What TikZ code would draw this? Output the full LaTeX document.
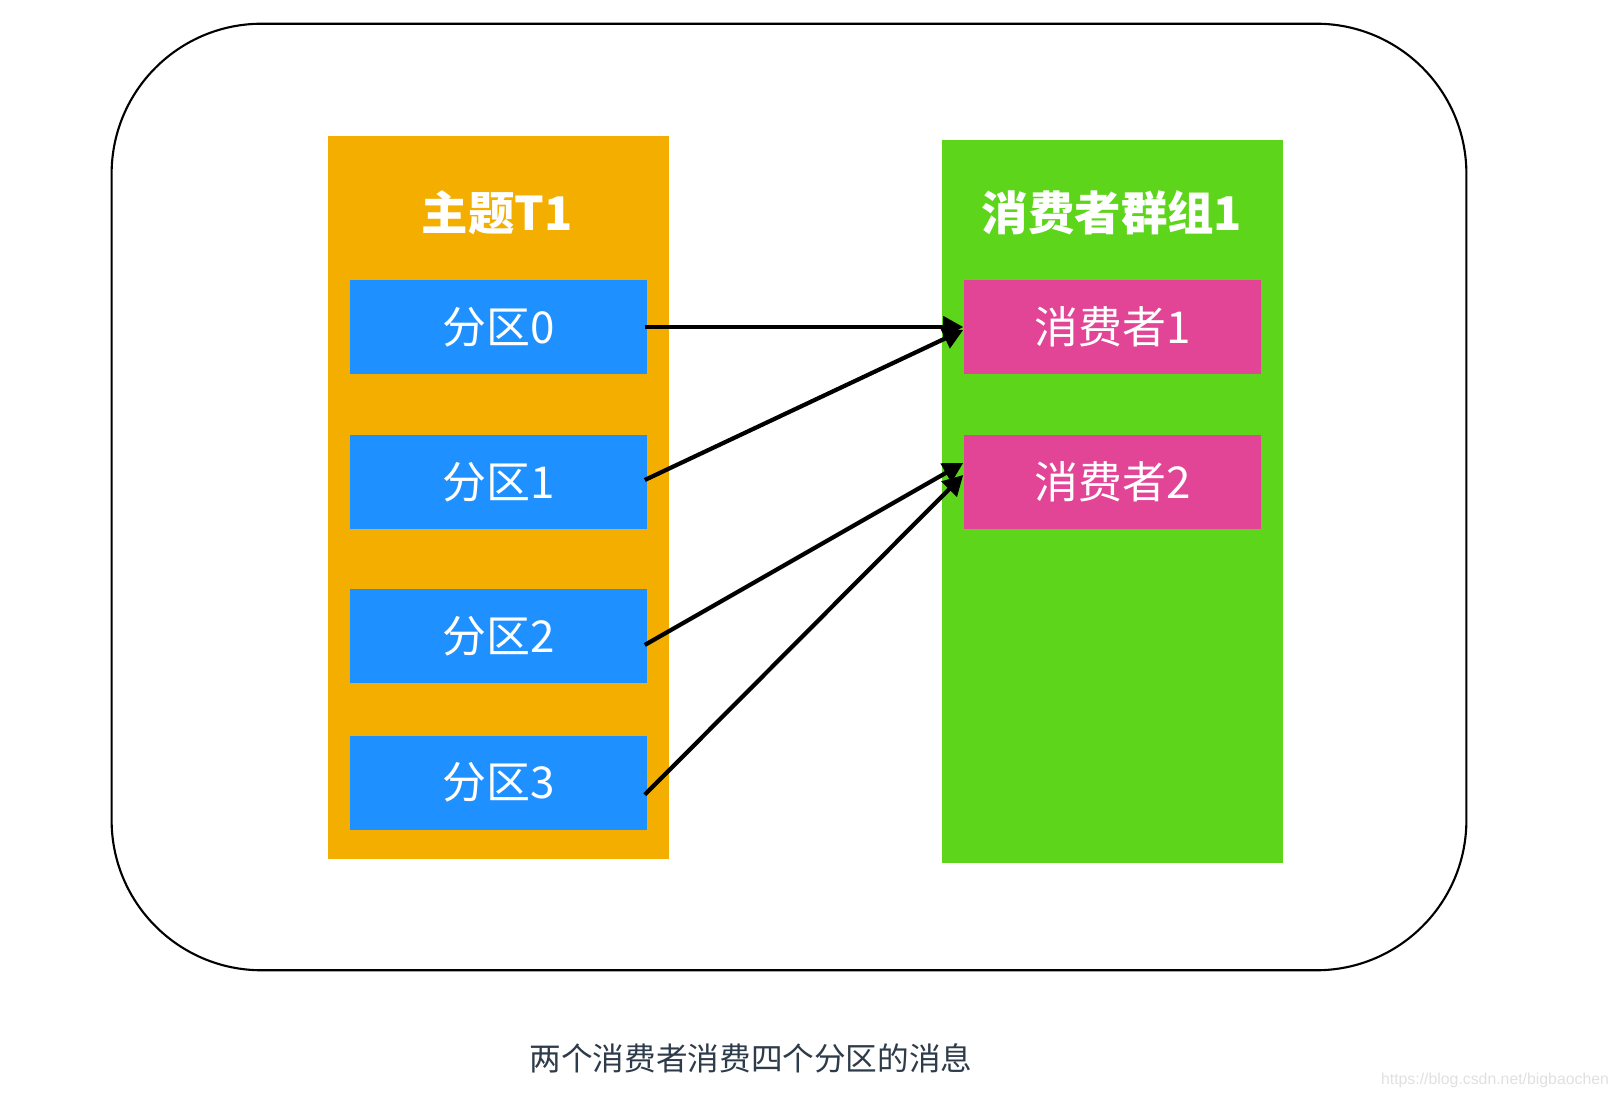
\documentclass[tikz,border=0pt]{standalone}
\usepackage{fontspec}
\newfontfamily\cjk{Noto Sans CJK SC}
\newfontfamily\wmfont{Liberation Sans}
\usetikzlibrary{calc,arrows.meta}
\definecolor{topicorange}{HTML}{F3AE00}
\definecolor{partblue}{HTML}{1E90FF}
\definecolor{groupgreen}{HTML}{5DD51B}
\definecolor{conspink}{HTML}{E24496}
\definecolor{captioncol}{HTML}{2E3B4A}
\begin{document}
\begin{tikzpicture}[x=0.01cm,y=-0.01cm,
  bigbox/.style={rectangle, inner sep=0pt, minimum width=3.41cm, minimum height=7.23cm},
  smallbox/.style={rectangle, inner sep=0pt, minimum width=2.97cm, minimum height=0.94cm,
    text=white, font=\cjk\fontsize{12.5pt}{14pt}\selectfont},
  titletext/.style={text=white, inner sep=0pt, font=\cjk\bfseries\fontsize{13.2pt}{15pt}\selectfont},
  arr/.style={line width=1.2pt, -{Triangle[length=0.2cm,width=0.21cm]}}
]
\useasboundingbox (0,0) rectangle (1618,1098);
\node[draw=black, line width=0.6pt, rounded corners=1.5cm, inner sep=0pt,
      minimum width=13.54cm, minimum height=9.46cm] (outer) at (789,497) {};
\node[bigbox, fill=topicorange] (topic) at (498.5,497.5) {};
\node[bigbox, fill=groupgreen] (group) at (1112.5,501.5) {};
\node[titletext] (ttitle) at (497,213) {主题T1};
\node[titletext] (gtitle) at (1112,213) {消费者群组1};
\node[smallbox, fill=partblue] (p0) at (498.5,327) {分区0};
\node[smallbox, fill=partblue] (p1) at (498.5,482) {分区1};
\node[smallbox, fill=partblue] (p2) at (498.5,636) {分区2};
\node[smallbox, fill=partblue] (p3) at (498.5,782.7) {分区3};
\node[smallbox, fill=conspink] (c1) at (1112.5,327) {消费者1};
\node[smallbox, fill=conspink] (c2) at (1112.5,482) {消费者2};
\draw[arr] ($(p0.east)+(-3,0)$) -- (c1.west);
\draw[arr] ($(p1.east)+(-3,-2)$) -- ($(c1.west)+(0,3)$);
\draw[arr] ($(p2.east)+(-3,9)$) -- ($(c2.west)+(0,-19)$);
\draw[arr] ($(p3.east)+(-3,12)$) -- ($(c2.west)+(0,-7)$);
\node[text=captioncol, inner sep=0pt, font=\cjk\fontsize{9pt}{11pt}\selectfont] (caption) at (751,1058) {两个消费者消费四个分区的消息};
\node[text=black!12, inner sep=0pt, font=\wmfont\fontsize{4.5pt}{5pt}\selectfont] (wm) at (1495,1080) {https://blog.csdn.net/bigbaochen};
\end{tikzpicture}
\end{document}
